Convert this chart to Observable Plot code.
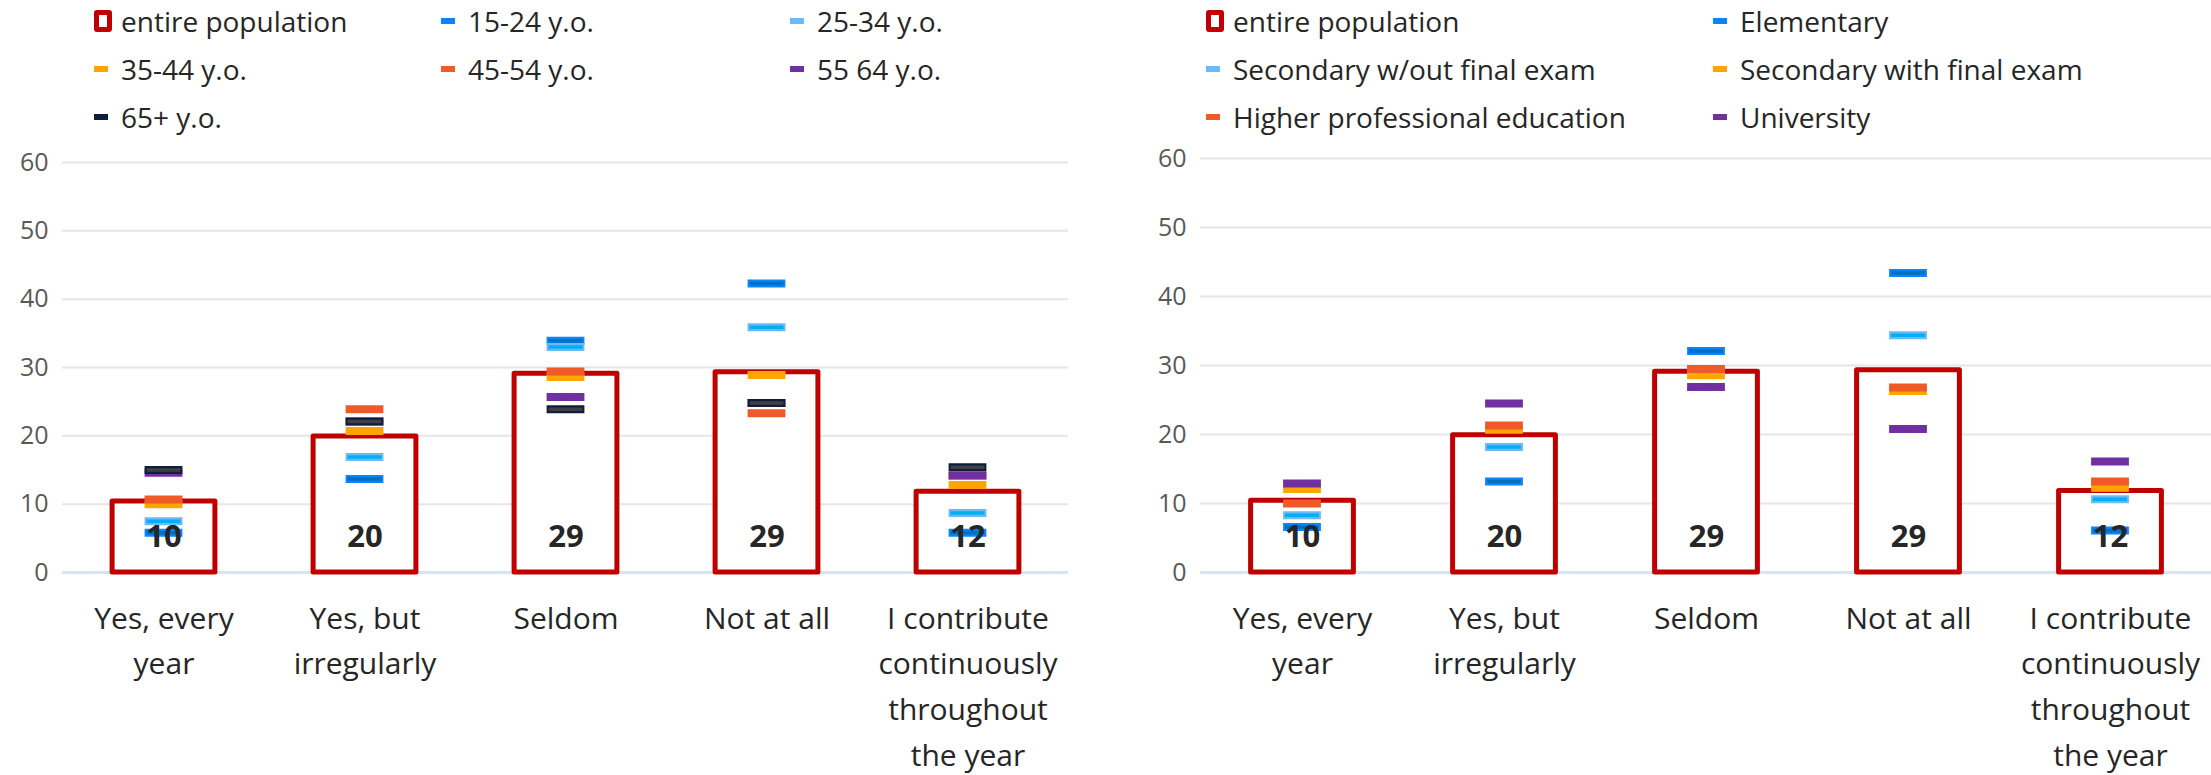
<!DOCTYPE html>
<html>
<head>
<meta charset="utf-8">
<script src="https://cdn.jsdelivr.net/npm/d3@7"></script>
<script src="https://cdn.jsdelivr.net/npm/@observablehq/plot@0.6"></script>
<style>
  body { margin: 0; background: #fff; width: 2211px; height: 775px; overflow: hidden; font-family: "Open Sans", sans-serif; position: relative; }
  .legend { position: absolute; top: -3px; display: grid; }
  .item { display: flex; align-items: center; height: 48px; font-size: 28px; color: #262626; white-space: nowrap; }
  .sw { width: 18px; height: 20px; margin-right: 9px; display: flex; align-items: center; flex: none; }
  .dash { width: 14px; height: 6px; }
  .box { width: 10px; height: 12px; border: 5px solid #C00000; border-radius: 3px; box-sizing: content-box; }
  .chart { position: absolute; }
</style>
</head>
<body>
<div id="legL" class="legend" style="left:94px; grid-template-columns: 347px 349px 320px;"></div>
<div id="legR" class="legend" style="left:1206px; grid-template-columns: 507px 480px;"></div>
<div id="chartL" class="chart" style="left:0px; top:145px;"></div>
<div id="chartR" class="chart" style="left:1105px; top:141px;"></div>
<script>
// ---- data ----
const categories = ["Yes, every\nyear", "Yes, but\nirregularly", "Seldom", "Not at all", "I contribute\ncontinuously\nthroughout\nthe year"];
const entirePopulation = [10.4, 19.9, 29.1, 29.3, 11.8];
const yTicks = [0, 10, 20, 30, 40, 50, 60];

const ageGroups = ["15-24 y.o.", "25-34 y.o.", "35-44 y.o.", "45-54 y.o.", "55 64 y.o.", "65+ y.o."];
const age15_24  = [5.8, 13.7, 33.9, 42.3, 5.8];
const age25_34  = [7.5, 16.9, 33.0, 35.9, 8.7];
const age35_44  = [10.0, 20.7, 28.6, 28.9, 12.8];
const age45_54  = [10.7, 23.9, 29.4, 23.3, 14.2];
const age55_64  = [14.6, 22.1, 25.7, 24.8, 14.2];
const age65plus = [15.0, 22.1, 23.9, 24.8, 15.4];

const eduLevels = ["Elementary", "Secondary w/out final exam", "Secondary with final exam", "Higher professional education", "University"];
const eduElementary = [6.6, 13.2, 32.1, 43.4, 6.1];
const eduSecNoExam  = [8.3, 18.2, 29.5, 34.4, 10.6];
const eduSecExam    = [12.1, 20.7, 28.6, 26.3, 12.3];
const eduHigherProf = [10.0, 21.3, 29.5, 26.8, 13.2];
const eduUniversity = [12.9, 24.5, 26.9, 20.8, 16.1];

// colours: [outer, inner]
const cBlue   = ["#0A84FF", "#0070C0"];
const cLight  = ["#6CB8F8", "#00B0F0"];
const cYellow = ["#FFA500", "#FFA500"];
const cOrange = ["#F05A28", "#F05A28"];
const cPurple = ["#7030A0", "#7030A0"];
const cDark   = ["#0F1E3C", "#404040"];
const barRed = "#C00000";

const ageSeries = [
  {name: ageGroups[0], values: age15_24,  col: cBlue},
  {name: ageGroups[1], values: age25_34,  col: cLight},
  {name: ageGroups[2], values: age35_44,  col: cYellow},
  {name: ageGroups[3], values: age45_54,  col: cOrange},
  {name: ageGroups[4], values: age55_64,  col: cPurple},
  {name: ageGroups[5], values: age65plus, col: cDark}
];
const eduSeries = [
  {name: eduLevels[0], values: eduElementary, col: cBlue},
  {name: eduLevels[1], values: eduSecNoExam,  col: cLight},
  {name: eduLevels[2], values: eduSecExam,    col: cYellow},
  {name: eduLevels[3], values: eduHigherProf, col: cOrange},
  {name: eduLevels[4], values: eduUniversity, col: cPurple}
];

function legend(el, series) {
  const items = [`<div class="item"><span class="sw"><span class="box"></span></span>entire population</div>`]
    .concat(series.map(s => `<div class="item"><span class="sw"><span class="dash" style="background:${s.col[0]}"></span></span>${s.name}</div>`));
  document.getElementById(el).innerHTML = items.join("");
}

function chart(series, o) {
  const rows = categories.map((c, i) => ({cat: c, value: entirePopulation[i]}));
  const bandW = (o.width - o.marginLeft - o.marginRight) / categories.length;
  const barInset = (bandW - 103) / 2;
  const tickInset = (bandW - 38) / 2;
  const marks = [
    Plot.gridY(yTicks, {stroke: "#E6E6E6", strokeOpacity: 1, strokeWidth: 2}),
    Plot.ruleY([0], {stroke: "#DAE3F3", strokeWidth: 3}),
    Plot.axisY({ticks: yTicks, tickSize: 0, tickPadding: 14, fontSize: 25, color: "#595959", label: null}),
    Plot.axisX({tickSize: 0, tickPadding: 24, fontSize: 30, lineHeight: 1.52, color: "#262626", label: null}),
    Plot.barY(rows, {x: "cat", y: "value", fill: "white", stroke: barRed, strokeWidth: 5, strokeLinejoin: "round", insetLeft: barInset, insetRight: barInset})
  ];
  for (const s of series) {
    const d = categories.map((c, i) => ({cat: c, value: s.values[i]}));
    marks.push(Plot.tickY(d, {x: "cat", y: "value", stroke: s.col[0], strokeWidth: 8, insetLeft: tickInset, insetRight: tickInset}));
    if (s.col[1] !== s.col[0]) {
      marks.push(Plot.tickY(d, {x: "cat", y: "value", stroke: s.col[1], strokeWidth: 3.5, insetLeft: tickInset + 2, insetRight: tickInset + 2}));
    }
  }
  marks.push(Plot.text(rows, {x: "cat", text: d => d3.format(".0f")(d.value), frameAnchor: "bottom", dy: -26, fontSize: 31, fontWeight: "bold", fill: "#262626"}));
  return Plot.plot({
    width: o.width, height: o.height,
    marginLeft: o.marginLeft, marginRight: o.marginRight, marginTop: o.marginTop, marginBottom: o.marginBottom,
    x: {domain: categories, padding: 0, axis: null},
    y: {domain: [0, 60], axis: null},
    style: {fontFamily: "'Open Sans', sans-serif", background: "transparent", overflow: "visible"},
    marks
  });
}

legend("legL", ageSeries);
legend("legR", eduSeries);
document.getElementById("chartL").appendChild(chart(ageSeries, {width: 1090, height: 630, marginLeft: 62, marginRight: 22, marginTop: 17, marginBottom: 203}));
document.getElementById("chartR").appendChild(chart(eduSeries, {width: 1106, height: 634, marginLeft: 95, marginRight: 0, marginTop: 17, marginBottom: 203}));
</script>
</body>
</html>
